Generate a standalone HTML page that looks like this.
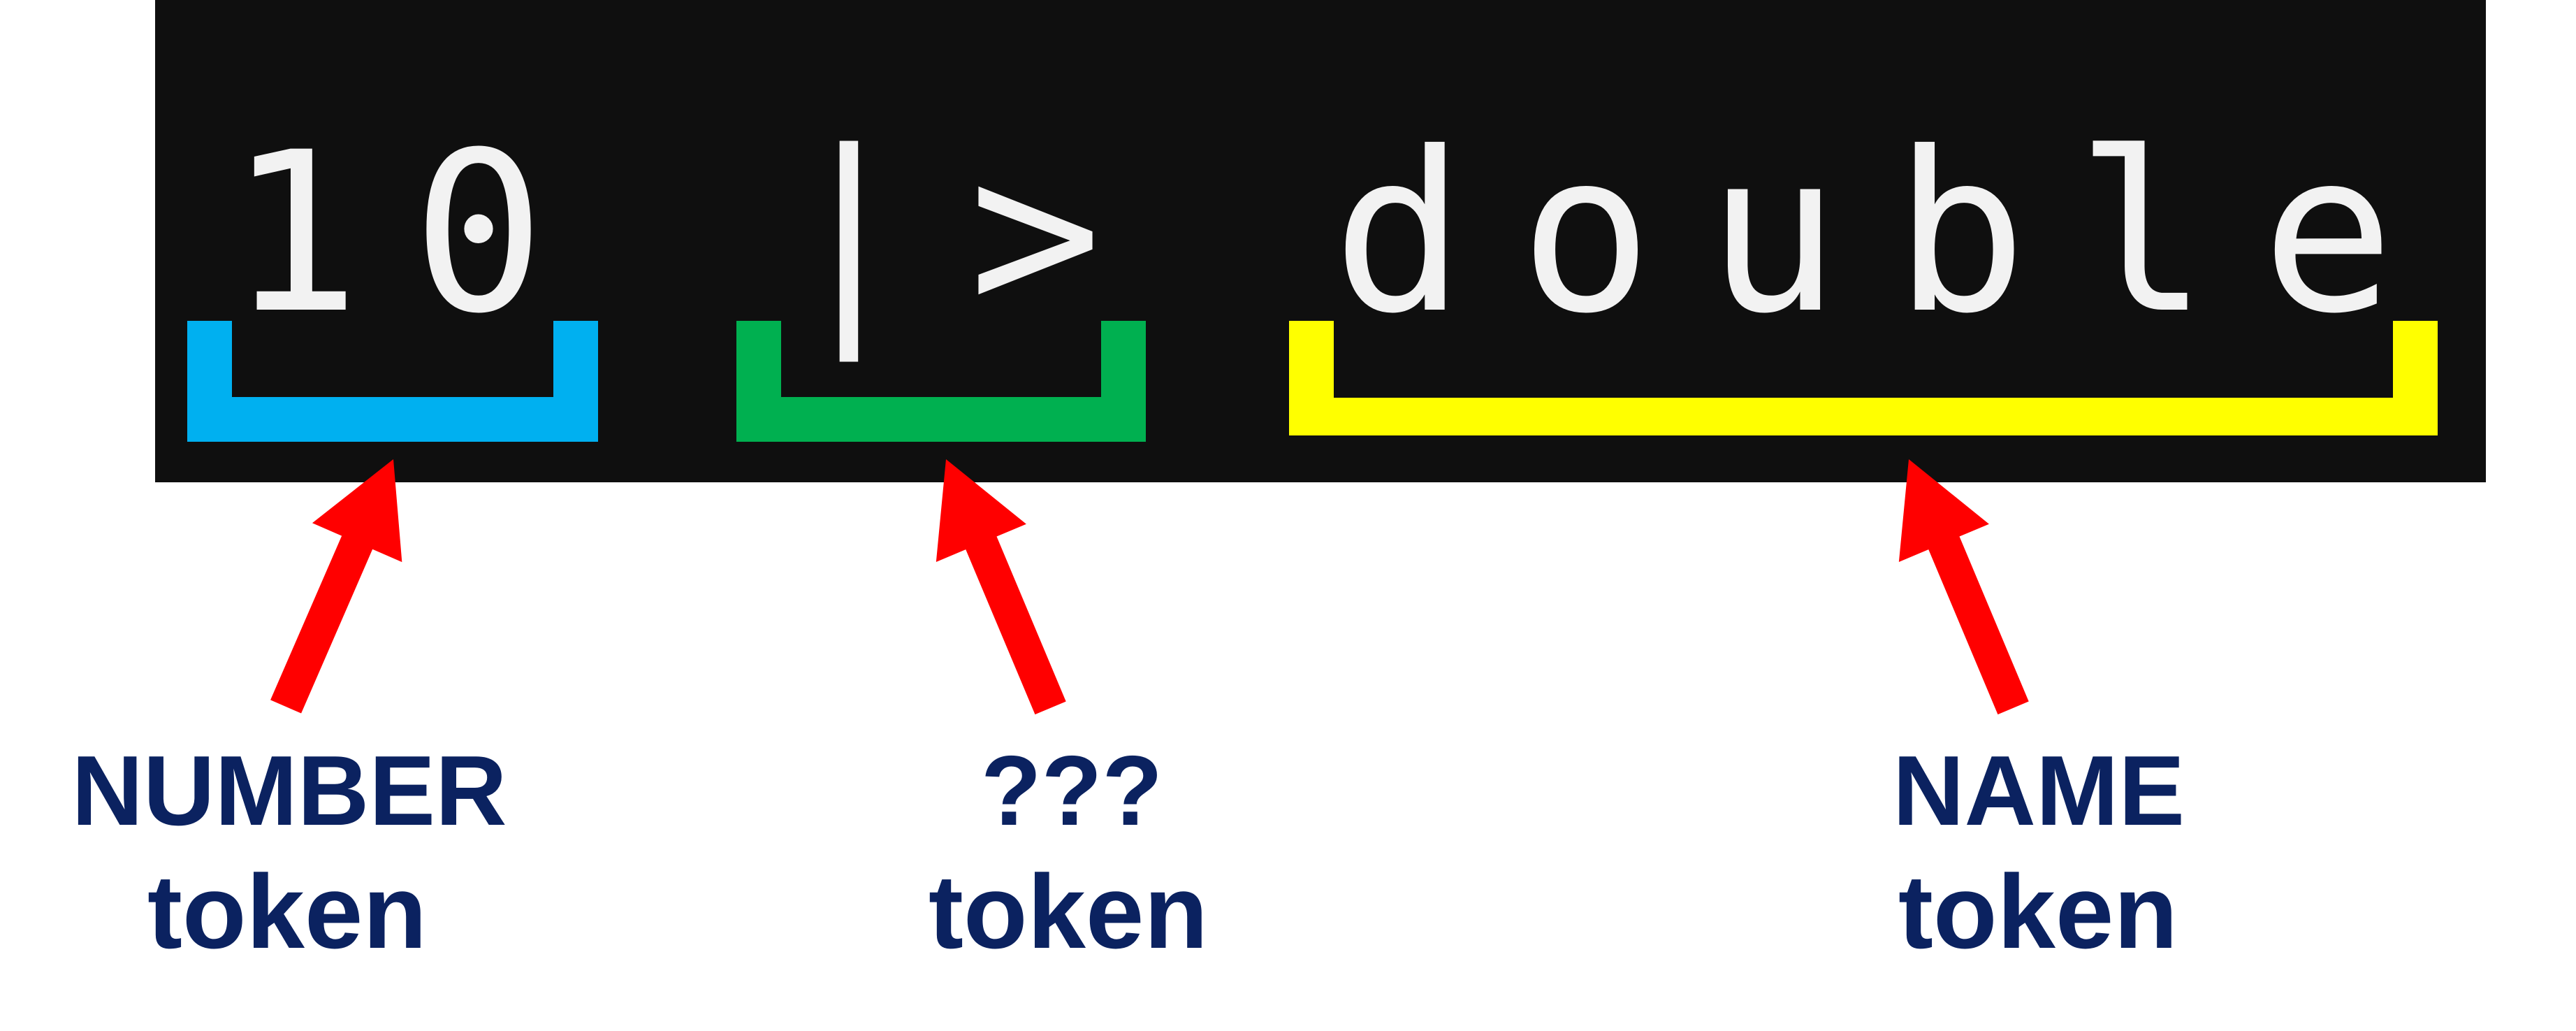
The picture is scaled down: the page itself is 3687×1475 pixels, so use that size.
<!DOCTYPE html>
<html><head><meta charset="utf-8"><style>
html,body{margin:0;padding:0;background:#fff;width:3687px;height:1475px;overflow:hidden}
svg{display:block}
</style></head><body>
<svg width="3687" height="1475" viewBox="0 0 3687 1475" xmlns="http://www.w3.org/2000/svg">
<rect x="0" y="0" width="3687" height="1475" fill="#fff"/>
<rect x="222" y="0" width="3336" height="690" fill="#0f0f0f"/>
<g font-family="'DejaVu Sans Mono','Liberation Mono',monospace" font-size="316" fill="#f2f2f2" text-anchor="middle">
<text x="421" y="443">1</text>
<text x="685" y="443">0</text>
<text x="1215" y="443">|</text>
<text x="1482" y="443">&gt;</text>
<text x="2002" y="443">d</text>
<text x="2270" y="443">o</text>
<text x="2538" y="443">u</text>
<text x="2806" y="443">b</text>
<text x="3066" y="443">l</text>
<text x="3332" y="443">e</text>
</g>
<path d="M268 459h64v109h460v-109h64v173h-588z" fill="#00b0f0"/>
<path d="M1054 459h64v109h458v-109h64v173h-586z" fill="#00b050"/>
<path d="M1845 459h64v110h1516v-110h64v164h-1644z" fill="#ffff00"/>
<g fill="#ff0000">
<polygon transform="translate(563,657) rotate(23.5)" points="0,0 70,130 24,130 24,386 -24,386 -24,130 -70,130"/>
<polygon transform="translate(1354,657) rotate(-22.8)" points="0,0 70,130 24,130 24,386 -24,386 -24,130 -70,130"/>
<polygon transform="translate(2732,657) rotate(-22.8)" points="0,0 70,130 24,130 24,386 -24,386 -24,130 -70,130"/>
</g>
<g font-family="'Liberation Sans',sans-serif" font-weight="bold" font-size="142" fill="#0b2260" text-anchor="middle">
<text x="414" y="1180">NUMBER</text>
<text x="411" y="1356" font-size="150">token</text>
<text x="1534" y="1180">???</text>
<text x="1529" y="1356" font-size="150">token</text>
<text x="2918" y="1180">NAME</text>
<text x="2917" y="1356" font-size="150">token</text>
</g>
</svg>
</body></html>
